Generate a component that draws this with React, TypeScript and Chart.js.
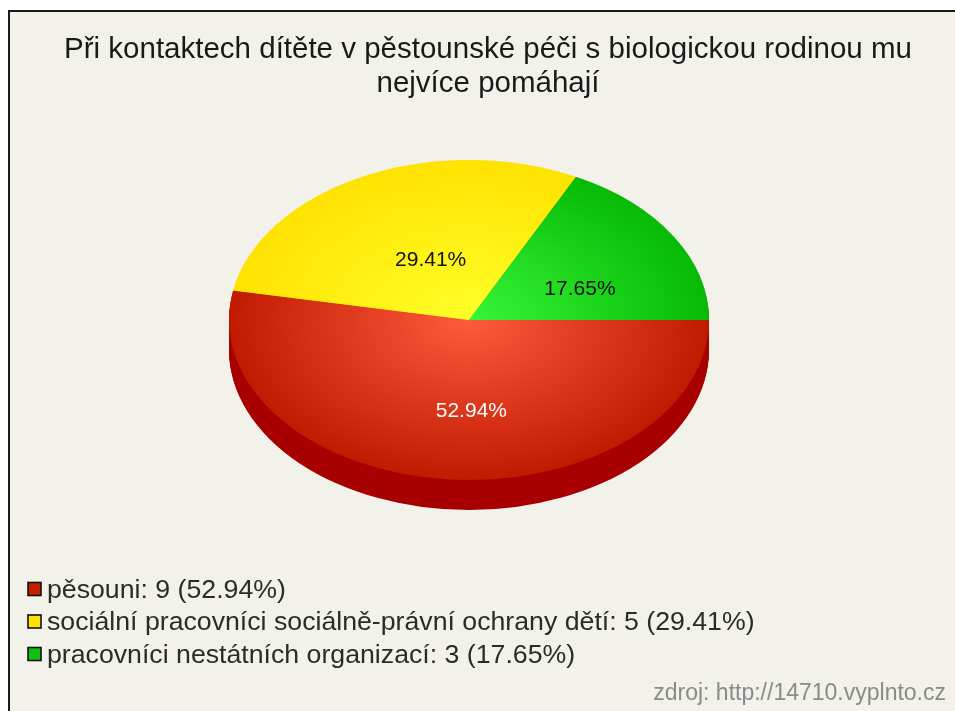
import React, { useEffect, useRef } from 'react';
import { Chart, registerables } from 'chart.js';

Chart.register(...registerables);

const TITLE_LINES = [
  'Při kontaktech dítěte v pěstounské péči s biologickou rodinou mu',
  'nejvíce pomáhají',
];
const LABELS = [
  'pěsouni',
  'sociální pracovníci sociálně-právní ochrany dětí',
  'pracovníci nestátních organizací',
];
const VALUES = [9, 5, 3];
const TOP_LIGHT = ['#ff5a3c', '#ffff28', '#38f538'];
const TOP_DARK = ['#c01a00', '#ffe200', '#06ba06'];
const SIDE_COLORS = ['#a80000', '#c8ac00', '#008a00'];
const LEGEND_COLORS = ['#c81e00', '#ffe000', '#10c010'];
const LABEL_TEXT_COLORS = ['#ffffff', '#111111', '#111111'];
const SOURCE = 'zdroj: http://14710.vyplnto.cz';

// layout (canvas coordinates)
const W = 945;
const H = 699;
const CX = 459;
const CY = 308;
const R = 240;
const K = 160 / 240;
const DEPTH = 30;
const FONT = "'Liberation Sans', Arial, sans-serif";

const total = VALUES.reduce((a, b) => a + b, 0);
const pct = (v: number) => ((v / total) * 100).toFixed(2) + '%';

const pie3d = {
  id: 'pie3d',
  beforeDatasetsDraw(chart: any) {
    const meta = chart.getDatasetMeta(0);
    const ctx = chart.ctx;
    const arcs = meta.data;
    chart.$pieSaved = false;
    if (!arcs.length) return;
    const ax = arcs[0].x;
    const ay = arcs[0].y;
    for (let d = DEPTH; d >= 1; d--) {
      ctx.save();
      ctx.translate(CX, CY + d);
      ctx.scale(1, K);
      ctx.translate(-ax, -ay);
      arcs.forEach((a: any, i: number) => {
        const p = a.getProps(['x', 'y', 'startAngle', 'endAngle', 'outerRadius'], true);
        ctx.beginPath();
        ctx.moveTo(p.x, p.y);
        ctx.arc(p.x, p.y, p.outerRadius, p.startAngle, p.endAngle);
        ctx.closePath();
        ctx.fillStyle = SIDE_COLORS[i];
        ctx.fill();
      });
      ctx.restore();
    }
    ctx.save();
    ctx.translate(CX, CY);
    ctx.scale(1, K);
    ctx.translate(-ax, -ay);
    chart.$pieSaved = true;
  },
  afterDatasetsDraw(chart: any) {
    const ctx = chart.ctx;
    if (chart.$pieSaved) ctx.restore();
    const meta = chart.getDatasetMeta(0);
    ctx.save();
    ctx.font = `21px ${FONT}`;
    ctx.textAlign = 'center';
    ctx.textBaseline = 'middle';
    meta.data.forEach((a: any, i: number) => {
      const p = a.getProps(['startAngle', 'endAngle', 'outerRadius'], true);
      const mid = (p.startAngle + p.endAngle) / 2;
      const lx = CX + Math.cos(mid) * p.outerRadius * 0.48 + 13;
      const ly = CY + Math.sin(mid) * p.outerRadius * K * 0.5 + 11.5;
      ctx.fillStyle = LABEL_TEXT_COLORS[i];
      ctx.fillText(pct(VALUES[i]), lx, ly);
    });
    ctx.restore();
  },
  afterDraw(chart: any) {
    const ctx = chart.ctx;
    ctx.save();
    // legend
    ctx.font = `26.7px ${FONT}`;
    ctx.textBaseline = 'middle';
    ctx.textAlign = 'left';
    LABELS.forEach((l, i) => {
      const y = 577 + i * 32.5;
      ctx.fillStyle = LEGEND_COLORS[i];
      ctx.fillRect(18, y - 6.5, 13, 13);
      ctx.strokeStyle = '#111';
      ctx.lineWidth = 1.6;
      ctx.strokeRect(18, y - 6.5, 13, 13);
      ctx.fillStyle = '#2b2b2b';
      ctx.fillText(`${l}: ${VALUES[i]} (${pct(VALUES[i])})`, 37, y + 1.5);
    });
    // source
    ctx.font = `23px ${FONT}`;
    ctx.textAlign = 'right';
    ctx.fillStyle = '#8a8a8a';
    ctx.fillText(SOURCE, 936, 682);
    ctx.restore();
  },
};

export default function App() {
  const ref = useRef<HTMLCanvasElement>(null);
  useEffect(() => {
    if (!ref.current) return;
    const chart = new Chart(ref.current, {
      type: 'pie',
      data: {
        labels: LABELS,
        datasets: [
          {
            data: VALUES,
            radius: R,
            borderWidth: 0,
            clip: false,
            backgroundColor: (c: any) => {
              const ch = c.chart;
              const i = c.dataIndex;
              const area = ch.chartArea;
              if (!area) return TOP_DARK[i];
              const x = (area.left + area.right) / 2;
              const y = (area.top + area.bottom) / 2;
              const g = ch.ctx.createRadialGradient(x, y, 0, x, y, R);
              g.addColorStop(0, TOP_LIGHT[i]);
              g.addColorStop(1, TOP_DARK[i]);
              return g;
            },
          } as any,
        ],
      },
      options: {
        responsive: false,
        animation: false,
        rotation: 90,
        layout: { padding: { left: 11 } },
        plugins: {
          legend: { display: false },
          tooltip: { enabled: false },
          title: {
            display: true,
            text: TITLE_LINES,
            color: '#1a1a1a',
            font: { family: FONT, size: 29.5, weight: 'normal', lineHeight: 34 / 29.5 },
            padding: { top: 21, bottom: 0 },
          },
        },
      },
      plugins: [pie3d],
    });
    return () => chart.destroy();
  }, []);

  return (
    <div
      style={{
        position: 'fixed',
        left: 8,
        top: 10,
        width: 947,
        height: 701,
        background: '#f3f2ea',
        borderLeft: '2px solid #1a1a1a',
        borderTop: '2px solid #1a1a1a',
        boxSizing: 'border-box',
        overflow: 'hidden',
      }}
    >
      <canvas ref={ref} width={W} height={H} style={{ display: 'block' }} />
    </div>
  );
}
